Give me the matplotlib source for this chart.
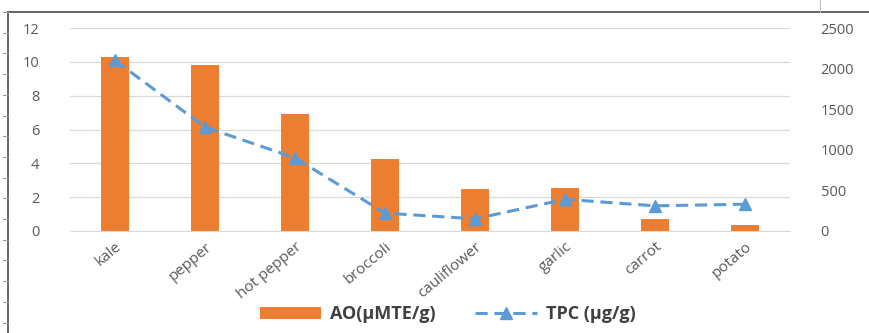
import matplotlib.pyplot as plt
from matplotlib.lines import Line2D
import numpy as np

plt.rcParams['font.family'] = ['Open Sans', 'DejaVu Sans']

categories = ['kale', 'pepper', 'hot pepper', 'broccoli', 'cauliflower', 'garlic', 'carrot', 'potato']
ao = [10.3, 9.8, 6.9, 4.25, 2.5, 2.55, 0.7, 0.35]
tpc = [2100, 1280, 900, 220, 150, 390, 310, 330]

orange = '#ED7D31'
blue = '#5B9BD5'
txt = '#595959'

fig = plt.figure(figsize=(8.69, 3.33), dpi=100)
ax = fig.add_axes([70 / 869, 1 - 231 / 333, 720 / 869, 203 / 333])
ax2 = ax.twinx()

x = np.arange(len(categories))
ax.bar(x, ao, width=0.31, color=orange, zorder=2, label='AO(μMTE/g)')
ax2.plot(x, tpc, color=blue, lw=2.2, dashes=(4, 2.2), marker='^', ms=9, label='TPC (μg/g)', zorder=3)

ax.set_xlim(-0.5, len(categories) - 0.5)
ax.set_ylim(0, 12)
ax.set_yticks(range(0, 13, 2))
ax2.set_ylim(0, 2500)
ax2.set_yticks(range(0, 2501, 500))

ax.yaxis.grid(True, color='#D9D9D9', lw=0.9, zorder=0)
ax.set_axisbelow(True)
ax.set_zorder(ax2.get_zorder() - 1)
ax.patch.set_visible(False)

for a in (ax, ax2):
    for s in a.spines.values():
        s.set_visible(False)
ax.spines['bottom'].set_visible(True)
ax.spines['bottom'].set_color('#D9D9D9')

ax.set_xticks(x)
ax.set_xticklabels(categories, rotation=40, ha='right', rotation_mode='anchor')
ax.tick_params(axis='x', length=0, pad=6, labelsize=11, labelcolor=txt)
ax.tick_params(axis='y', length=0, pad=22, labelsize=10.5, labelcolor=txt)
ax2.tick_params(axis='y', length=0, pad=22, labelsize=10.5, labelcolor=txt)

h1, l1 = ax.get_legend_handles_labels()
h2, l2 = ax2.get_legend_handles_labels()
leg = fig.legend(h1 + h2, l1 + l2, loc='lower center', bbox_to_anchor=(0.515, -0.02), ncol=2,
                 frameon=False, handlelength=3.4, handletextpad=0.5, columnspacing=2.2,
                 prop={'weight': 'bold', 'size': 13})
for t in leg.get_texts():
    t.set_color('#404040')

# page border remnants
frame = '#595959'
fig.add_artist(Line2D([8 / 869, 8 / 869], [0, 1 - 12 / 333], color=frame, lw=1.3))
fig.add_artist(Line2D([8 / 869, 1], [1 - 12 / 333, 1 - 12 / 333], color=frame, lw=1.3))
for yp in np.arange(12, 333, 20.7):
    fig.add_artist(Line2D([3 / 869, 8 / 869], [1 - yp / 333, 1 - yp / 333], color='#A0A0A0', lw=0.8))
fig.add_artist(Line2D([820 / 869, 820 / 869], [1 - 12 / 333, 1], color='#C0C0C0', lw=0.8))

fig.savefig('out.png', dpi=100)
